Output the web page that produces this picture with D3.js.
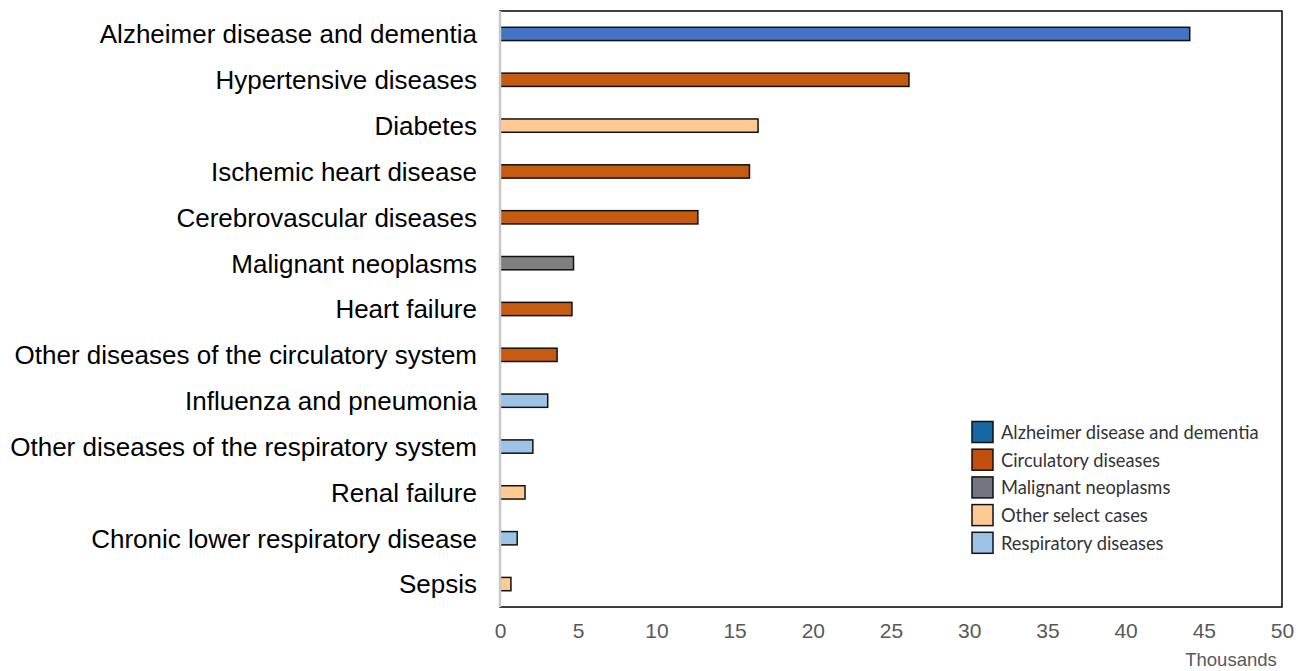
<!DOCTYPE html>
<html>
<head>
<meta charset="utf-8">
<script src="https://cdn.jsdelivr.net/npm/d3@7"></script>
<style>
  body { margin: 0; background: #fff; }
  svg { display: block; }
</style>
</head>
<body>
<script>
var w = 1298
var h = 671

// data (thousands)
var causes = ["Alzheimer disease and dementia", "Hypertensive diseases", "Diabetes",
  "Ischemic heart disease", "Cerebrovascular diseases", "Malignant neoplasms", "Heart failure",
  "Other diseases of the circulatory system", "Influenza and pneumonia",
  "Other diseases of the respiratory system", "Renal failure",
  "Chronic lower respiratory disease", "Sepsis"]
var deaths = [44.1, 26.15, 16.5, 15.95, 12.65, 4.7, 4.6, 3.65, 3.05, 2.1, 1.6, 1.1, 0.7]
var groups = ["Alzheimer", "Circulatory", "Other", "Circulatory", "Circulatory", "Malignant",
  "Circulatory", "Circulatory", "Respiratory", "Respiratory", "Other", "Respiratory", "Other"]
var xTicks = [0, 5, 10, 15, 20, 25, 30, 35, 40, 45, 50]

var legendKeys = ["Alzheimer", "Circulatory", "Malignant", "Other", "Respiratory"]
var legendLabels = ["Alzheimer disease and dementia", "Circulatory diseases", "Malignant neoplasms",
  "Other select cases", "Respiratory diseases"]

var barColor = {Alzheimer: "#4472c4", Circulatory: "#c55a11", Malignant: "#808080", Other: "#ffc993", Respiratory: "#9dc3e6"}
var legendColor = {Alzheimer: "#1667a4", Circulatory: "#c24f0c", Malignant: "#71767f", Other: "#ffc993", Respiratory: "#9dc3e6"}

var m = {top: 11, right: 16, bottom: 64, left: 500}

var svg = d3.select("body").append("svg")
  .attr("width", w)
  .attr("height", h)

var x = d3.scaleLinear().domain([0, 50]).range([m.left, w - m.right])
var y = d3.scaleBand().domain(causes).range([m.top, h - m.bottom]).paddingInner(0.71).paddingOuter(0.355)

// plot frame
svg.append("rect")
  .attr("x", m.left).attr("y", m.top)
  .attr("width", w - m.right - m.left).attr("height", h - m.bottom - m.top)
  .attr("fill", "none").attr("stroke", "#000").attr("stroke-width", 1.5)

// bars
svg.selectAll("rect.bar").data(deaths).enter().append("rect")
  .attr("class", "bar")
  .attr("x", x(0))
  .attr("y", (d, i) => y(causes[i]))
  .attr("width", d => x(d) - x(0))
  .attr("height", y.bandwidth())
  .attr("fill", (d, i) => barColor[groups[i]])
  .attr("stroke", "#111").attr("stroke-width", 1.5)

// left axis line (light grey)
svg.append("line")
  .attr("x1", m.left).attr("x2", m.left)
  .attr("y1", m.top).attr("y2", h - m.bottom)
  .attr("stroke", "#c8c8c8").attr("stroke-width", 2.5)

// category labels
svg.selectAll("text.cat").data(causes).enter().append("text")
  .attr("class", "cat")
  .attr("x", m.left - 23)
  .attr("y", d => y(d) + y.bandwidth() / 2)
  .attr("dy", "0.36em")
  .attr("text-anchor", "end")
  .style("font-family", "Liberation Sans, Arial, sans-serif")
  .style("font-size", "26px")
  .attr("fill", "#000")
  .text(d => d)

// x axis
var xAxis = svg.append("g")
  .attr("transform", "translate(0," + (h - m.bottom) + ")")
  .call(d3.axisBottom(x).tickValues(xTicks).tickSize(0).tickPadding(16))
xAxis.select(".domain").remove()
xAxis.selectAll("text")
  .style("font-family", "Liberation Sans, Arial, sans-serif")
  .style("font-size", "21px")
  .attr("fill", "#595959")

svg.append("text")
  .attr("x", 1231).attr("y", 666)
  .attr("text-anchor", "middle")
  .style("font-family", "Liberation Sans, Arial, sans-serif")
  .style("font-size", "18.5px")
  .attr("fill", "#595959")
  .text("Thousands")

// legend
var leg = svg.append("g").attr("transform", "translate(972,421.5)")
var rows = leg.selectAll("g").data(legendKeys).enter().append("g")
  .attr("transform", (d, i) => "translate(0," + (i * 27.7) + ")")
rows.append("rect")
  .attr("width", 21).attr("height", 21)
  .attr("fill", d => legendColor[d])
  .attr("stroke", "#111").attr("stroke-width", 1.5)
rows.append("text")
  .attr("x", 29).attr("y", 11).attr("dy", "0.35em")
  .style("font-family", "Lato, 'Open Sans', sans-serif")
  .style("font-size", "18.3px")
  .attr("fill", "#333")
  .text((d, i) => legendLabels[i])
</script>
</body>
</html>
